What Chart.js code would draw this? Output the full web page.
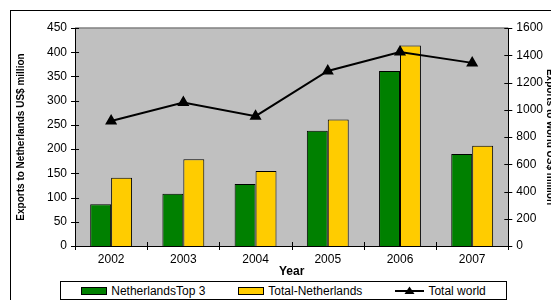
<!DOCTYPE html>
<html>
<head>
<meta charset="utf-8">
<script src="https://cdn.jsdelivr.net/npm/chart.js@4/dist/chart.umd.min.js"></script>
<style>
  html, body { margin: 0; padding: 0; width: 551px; height: 300px; overflow: hidden; background: #fff; }
  #wrap { position: relative; width: 551px; height: 300px; }
  #frame { position: absolute; left: 10px; top: 10px; width: 600px; height: 400px; border: 1px solid #000; }
  #chart { position: absolute; left: 0; top: 0; }
  #legend {
    position: absolute; left: 60px; top: 281px; width: 445px; height: 17px;
    border: 1px solid #000; background: #fff;
    display: flex; align-items: center; justify-content: center; gap: 33px;
    font-family: "Liberation Sans", Arial, sans-serif; font-size: 12px; color: #000;
  }
  .item { display: flex; align-items: center; gap: 4px; white-space: nowrap; }
  .box { display: inline-block; width: 24px; height: 6px; border: 1px solid #000; }
</style>
</head>
<body>
<div id="wrap">
  <div id="frame"></div>
  <canvas id="chart" width="560" height="300"></canvas>
  <div id="legend"></div>
</div>
<script>
const years = ['2002', '2003', '2004', '2005', '2006', '2007'];
const netherlandsTop3 = [86, 108, 128, 238, 361, 190];
const totalNetherlands = [141, 179, 155, 261, 414, 207];
const totalWorld = [918, 1053, 953, 1285, 1424, 1344];

const FONT = '"Liberation Sans", Arial, sans-serif';

// grey plot area + darker top edge
const plotArea = {
    id: 'plotArea',
    beforeDraw(chart) {
        const { ctx, chartArea: a } = chart;
        ctx.save();
        ctx.fillStyle = '#c0c0c0';
        ctx.fillRect(a.left, a.top, a.right - a.left, a.bottom - a.top);
        ctx.strokeStyle = '#808080';
        ctx.lineWidth = 1.5;
        ctx.beginPath();
        ctx.moveTo(a.left, a.top);
        ctx.lineTo(a.right, a.top);
        ctx.stroke();
        ctx.restore();
    },
};

// tick marks that cross the axis lines
const crossTicks = {
    id: 'crossTicks',
    afterDraw(chart) {
        const { ctx, chartArea: a, scales } = chart;
        ctx.save();
        ctx.strokeStyle = '#000';
        ctx.lineWidth = 1;
        ctx.beginPath();
        scales.y.ticks.forEach((t, i) => {
            const py = Math.round(scales.y.getPixelForTick(i)) + 0.5;
            ctx.moveTo(a.left - 4, py); ctx.lineTo(a.left + 4, py);
        });
        scales.y1.ticks.forEach((t, i) => {
            const py = Math.round(scales.y1.getPixelForTick(i)) + 0.5;
            ctx.moveTo(a.right - 4, py); ctx.lineTo(a.right + 4, py);
        });
        for (let i = 0; i <= years.length; i++) {
            const px = Math.round(scales.x.getPixelForValue(i - 0.5)) + 0.5;
            ctx.moveTo(px, a.bottom - 4); ctx.lineTo(px, a.bottom + 4);
        }
        ctx.stroke();
        ctx.restore();
    },
};

const chart = new Chart(document.getElementById('chart'), {
    type: 'bar',
    data: {
        labels: years,
        datasets: [
            { label: 'NetherlandsTop 3', data: netherlandsTop3, backgroundColor: '#008000', borderColor: '#000', borderWidth: 1, yAxisID: 'y', order: 1 },
            { label: 'Total-Netherlands', data: totalNetherlands, backgroundColor: '#ffcc00', borderColor: '#000', borderWidth: 1, yAxisID: 'y', order: 1 },
            {
                type: 'line', label: 'Total world', data: totalWorld, yAxisID: 'y1', order: 0,
                borderColor: '#000', borderWidth: 2, backgroundColor: '#000',
                pointStyle: 'triangle', pointRadius: 5, pointBackgroundColor: '#000', pointBorderColor: '#000',
                tension: 0,
            },
        ],
    },
    options: {
        responsive: false,
        animation: false,
        layout: { padding: { left: 15, right: 4, top: 28, bottom: 22 } },
        datasets: { bar: { categoryPercentage: 0.58, barPercentage: 1.0 } },
        plugins: { legend: { display: false }, tooltip: { enabled: false } },
        scales: {
            x: {
                grid: { display: false, drawTicks: false },
                border: { color: '#000', width: 1 },
                ticks: { color: '#000', padding: 8, font: { family: FONT, size: 12, lineHeight: 1 } },
                title: { display: true, text: 'Year', color: '#000', padding: { top: -8, bottom: 0 }, font: { family: FONT, size: 12, weight: 'bold', lineHeight: 1 } },
            },
            y: {
                position: 'left', min: 0, max: 450,
                grid: { display: false, drawTicks: false },
                border: { color: '#000', width: 1 },
                ticks: { stepSize: 50, color: '#000', padding: 8, font: { family: FONT, size: 12 } },
                title: { display: true, text: 'Exports to Netherlands US$ million', color: '#000', padding: { top: 0, bottom: 12 }, font: { family: FONT, size: 10, weight: 'bold', lineHeight: 1.2 } },
            },
            y1: {
                position: 'right', min: 0, max: 1600,
                grid: { display: false, drawTicks: false },
                border: { color: '#000', width: 1 },
                ticks: { stepSize: 200, color: '#000', padding: 8, font: { family: FONT, size: 12 }, callback: v => String(v) },
                title: { display: true, text: 'Exports to world US$ million', color: '#000', padding: { top: 0, bottom: -7 }, font: { family: FONT, size: 10, weight: 'bold', lineHeight: 1.2 } },
            },
        },
    },
    plugins: [plotArea, crossTicks],
});

// HTML legend built from the datasets
const legend = document.getElementById('legend');
chart.data.datasets.forEach(ds => {
    const item = document.createElement('span');
    item.className = 'item';
    if (ds.type === 'line') {
        item.innerHTML = '<svg width="29" height="9"><line x1="0" y1="5" x2="29" y2="5" stroke="#000" stroke-width="2"/><polygon points="14.5,0.5 19.5,8 9.5,8" fill="#000"/></svg>';
    } else {
        const box = document.createElement('span');
        box.className = 'box';
        box.style.background = ds.backgroundColor;
        item.appendChild(box);
    }
    const txt = document.createElement('span');
    txt.textContent = ds.label;
    item.appendChild(txt);
    legend.appendChild(item);
});
</script>
</body>
</html>
